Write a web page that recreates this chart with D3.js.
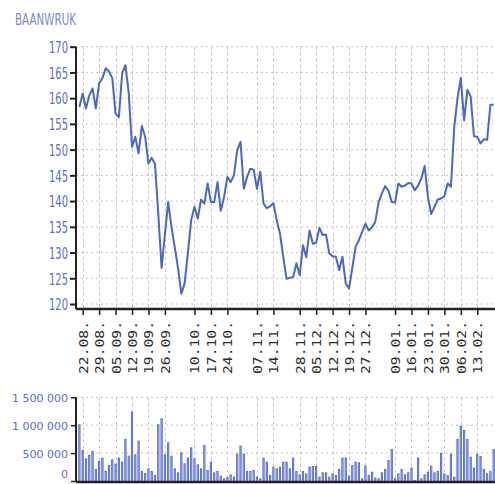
<!DOCTYPE html>
<html><head><meta charset="utf-8">
<script src="https://cdn.jsdelivr.net/npm/d3@7"></script>
<style>
html,body{margin:0;padding:0;background:#fff;}
svg{display:block;}
</style></head>
<body>
<svg id="c" width="495" height="484"></svg>
<script>
const title = "BAANWRUK";
const tickLabels = ["22.08.","29.08.","05.09.","12.09.","19.09.","26.09.","10.10.","17.10.","24.10.","07.11.","14.11.","28.11.","05.12.","12.12.","19.12.","27.12.","09.01.","16.01.","23.01.","30.01.","06.02.","13.02."];
const tickIdx = [1,6,11,16,21,26,35,40,45,54,59,67,72,77,82,87,96,101,106,111,116,121];
const priceTicks = [120,125,130,135,140,145,150,155,160,165,170];
const volumeTicks = [0,500000,1000000,1500000];
const price = [158.3,160.9,158.0,160.5,161.9,158.0,162.9,163.9,165.8,165.2,
163.9,157.0,156.3,164.8,166.4,161.0,150.5,152.5,149.3,154.6,
152.5,147.3,148.4,147.2,137.5,127.0,133.5,139.8,135.0,131.0,
127.0,122.0,124.0,130.0,136.3,138.9,136.6,140.3,139.5,143.4,
139.8,139.8,143.7,138.1,140.8,144.7,143.7,145.0,149.9,151.5,
142.4,144.7,146.3,146.1,142.4,145.7,139.5,138.6,139.0,139.6,
136.3,133.7,129.2,124.9,125.1,125.2,127.9,125.6,131.4,129.1,
134.3,131.7,131.9,134.8,133.4,133.5,129.8,129.3,129.2,126.6,
129.2,124.0,123.0,127.0,131.1,132.4,134.0,135.6,134.3,134.9,
136.0,139.8,141.5,142.9,142.0,139.8,139.7,143.4,142.8,143.0,
143.5,143.4,142.1,143.0,144.4,146.8,140.8,137.5,138.9,140.3,
140.5,141.0,143.4,142.8,154.4,160.0,163.9,155.7,161.6,160.3,
152.6,152.5,151.2,152.0,151.9,158.7,158.7];
const volume = [1016000,556000,406000,466000,538000,215000,358000,418000,179000,287000,
388000,311000,418000,346000,753000,454000,1243000,478000,723000,179000,
143000,227000,179000,108000,1016000,1123000,478000,693000,454000,227000,
155000,514000,317000,418000,603000,406000,299000,227000,645000,197000,
346000,155000,179000,96000,48000,72000,119000,78000,490000,633000,
490000,179000,179000,197000,78000,48000,418000,346000,108000,257000,
227000,257000,346000,346000,227000,418000,179000,119000,179000,137000,
257000,269000,269000,78000,155000,155000,78000,137000,108000,215000,
418000,418000,96000,287000,346000,335000,48000,275000,108000,167000,
60000,48000,155000,215000,376000,573000,48000,137000,215000,119000,
155000,239000,18000,418000,48000,119000,167000,275000,155000,179000,
502000,137000,108000,490000,78000,753000,992000,914000,753000,436000,
239000,484000,448000,215000,137000,179000,573000];

const svg = d3.select("#c");
const left = 76, right = 495;
const labelBlue = "#5a6fc2";
const gridCol = "#c4c4c4";

const x = d3.scaleLinear().domain([0, price.length - 1]).range([79.4, 493.7]);
const y = d3.scaleLinear().domain([120, 170]).range([304, 46.7]);
const yv = d3.scaleLinear().domain([0, 1500000]).range([481, 397.3]);

svg.append("text").attr("x", 15).attr("y", 25)
  .attr("font-family", "DejaVu Sans, sans-serif").attr("font-size", 16)
  .attr("fill", "#7b8dcc").attr("textLength", 61).attr("lengthAdjust", "spacingAndGlyphs")
  .text(title);

// ---- price chart ----
const pTop = 46.7, pBot = 309;
svg.append("g").selectAll("line").data(priceTicks).join("line")
  .attr("x1", left).attr("x2", right).attr("y1", d => y(d)).attr("y2", d => y(d))
  .attr("stroke", gridCol).attr("stroke-dasharray", "2,3").attr("stroke-width", 1);
svg.append("g").selectAll("line").data(tickIdx).join("line")
  .attr("x1", d => Math.round(x(d)) + 0.5).attr("x2", d => Math.round(x(d)) + 0.5)
  .attr("y1", pTop).attr("y2", pBot)
  .attr("stroke", gridCol).attr("stroke-dasharray", "3,3").attr("stroke-width", 1);

const yAx = svg.append("g").attr("transform", `translate(${left},0)`)
  .call(d3.axisLeft(y).tickValues(priceTicks).tickSize(6).tickPadding(2).tickFormat(d3.format("d")));
yAx.select(".domain").attr("d", `M0,${pTop}V${pBot}`).attr("stroke", "#222").attr("stroke-width", 2);
yAx.selectAll(".tick line").attr("stroke", "#222").attr("stroke-width", 2);
yAx.selectAll(".tick text").attr("font-family", "DejaVu Sans, sans-serif").attr("font-size", 16)
  .attr("fill", labelBlue).attr("textLength", 19).attr("lengthAdjust", "spacingAndGlyphs").attr("dy", "0.36em");

const xAx = svg.append("g").attr("transform", `translate(0,${pBot})`)
  .call(d3.axisBottom(x).tickValues(tickIdx).tickSize(6).tickFormat((d, i) => tickLabels[i]));
xAx.select(".domain").attr("d", `M${left},0H${right}`).attr("stroke", "#222").attr("stroke-width", 2.5);
xAx.selectAll(".tick line").attr("stroke", "#222").attr("stroke-width", 1.5);
xAx.selectAll(".tick text")
  .attr("transform", "rotate(-90)").attr("text-anchor", "end")
  .attr("x", -12).attr("y", 0).attr("dy", "0.36em")
  .attr("font-family", "DejaVu Sans Mono, monospace").attr("font-size", 12.3)
  .attr("fill", "#2a2a2a").attr("textLength", 53).attr("lengthAdjust", "spacingAndGlyphs");

svg.append("path").datum(price)
  .attr("d", d3.line().x((d, i) => x(i)).y(d => y(d)))
  .attr("fill", "none").attr("stroke", "#4a68c2").attr("stroke-width", 2)
  .attr("stroke-linejoin", "round");

// ---- volume chart ----
const vTop = 397.3, vBot = 481;
svg.append("g").selectAll("line").data(volumeTicks.slice(1)).join("line")
  .attr("x1", left).attr("x2", right).attr("y1", d => yv(d)).attr("y2", d => yv(d))
  .attr("stroke", gridCol).attr("stroke-dasharray", "2,3");
svg.append("g").selectAll("line").data(tickIdx).join("line")
  .attr("x1", d => Math.round(x(d)) + 0.5).attr("x2", d => Math.round(x(d)) + 0.5)
  .attr("y1", vTop).attr("y2", vBot)
  .attr("stroke", gridCol).attr("stroke-dasharray", "3,3");

svg.append("g").selectAll("rect").data(volume).join("rect")
  .attr("x", (d, i) => x(i) - 1.1).attr("width", 2.2)
  .attr("y", d => yv(d)).attr("height", d => vBot - yv(d))
  .attr("fill", "#5366cc");
svg.append("g").selectAll("rect").data(volume).join("rect")
  .attr("x", (d, i) => x(i) - 0.3).attr("width", 0.6)
  .attr("y", d => yv(d) + 1).attr("height", d => Math.max(0, vBot - yv(d) - 1))
  .attr("fill", "#8fb0e4");

const vAx = svg.append("g").attr("transform", `translate(${left},0)`)
  .call(d3.axisLeft(yv).tickValues(volumeTicks).tickSize(5).tickPadding(3)
    .tickFormat(d => d3.format(",")(d).replace(/,/g, " ")));
vAx.select(".domain").attr("d", `M0,${vTop}V${vBot}`).attr("stroke", "#222").attr("stroke-width", 2);
vAx.selectAll(".tick line").attr("stroke", "#222").attr("stroke-width", 1.5);
vAx.selectAll(".tick text").attr("font-family", "DejaVu Sans, sans-serif").attr("font-size", 11)
  .attr("fill", labelBlue).attr("dy", d => d === 0 ? "-0.3em" : "0.36em");

svg.append("line").attr("x1", left).attr("x2", right).attr("y1", vBot + 1).attr("y2", vBot + 1)
  .attr("stroke", "#222").attr("stroke-width", 2.5);
</script>
</body></html>
